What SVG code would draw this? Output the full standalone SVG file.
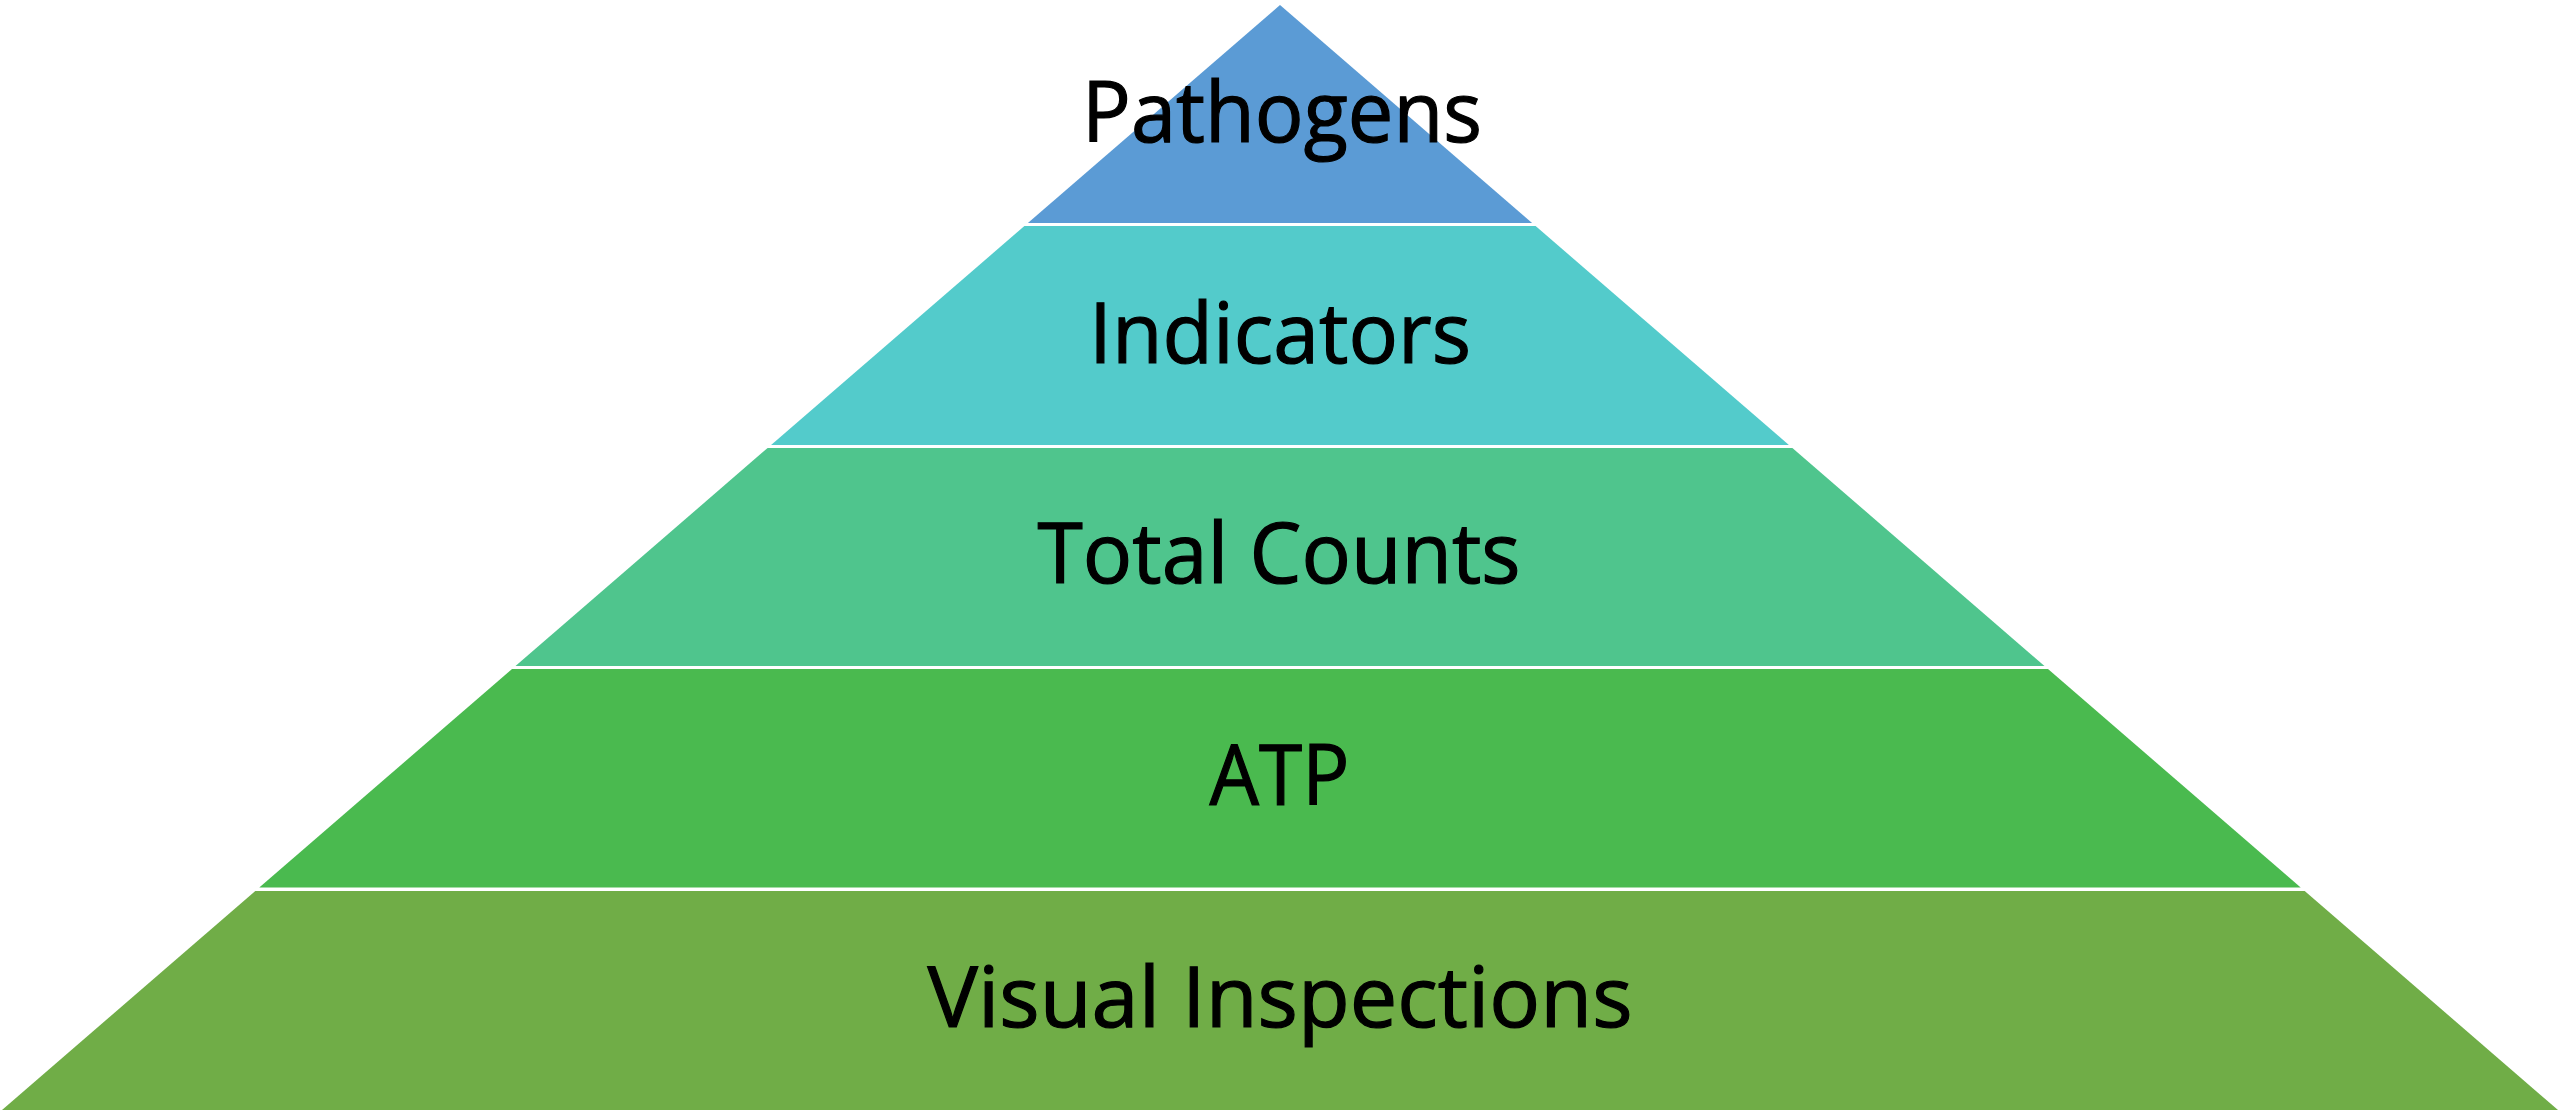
<svg xmlns="http://www.w3.org/2000/svg" width="2560" height="1110" viewBox="0 0 2560 1110">
<style>
.lbl{font-family:"Open Sans","Liberation Sans",sans-serif;font-size:84px;fill:#000000;stroke:#000000;stroke-width:1.2px;text-anchor:middle}
</style>
<rect x="0" y="0" width="2560" height="1110" fill="#FFFFFF"/>
<g id="layer-pathogens">
<polygon points="1280,5 1532.1,223 1027.9,223" fill="#5B9BD5"/>
<text class="lbl" x="1282" y="141.7" textLength="400" lengthAdjust="spacingAndGlyphs">Pathogens</text>
</g>
<g id="layer-indicators">
<polygon points="1024.4,226 1535.6,226 1788.9,445 771.1,445" fill="#53CBCB"/>
<text class="lbl" x="1280" y="362.5" textLength="382" lengthAdjust="spacingAndGlyphs">Indicators</text>
</g>
<g id="layer-total-counts">
<polygon points="767.6,448 1792.4,448 2044.5,666 515.5,666" fill="#4FC58D"/>
<text class="lbl" x="1279" y="583.3" textLength="483" lengthAdjust="spacingAndGlyphs">Total Counts</text>
</g>
<g id="layer-atp">
<polygon points="512,669 2048,669 2300.7,887.5 259.3,887.5" fill="#4ABA4F"/>
<text class="lbl" x="1279.5" y="805" textLength="140" lengthAdjust="spacingAndGlyphs">ATP</text>
</g>
<g id="layer-visual-inspections">
<polygon points="255.3,891 2304.7,891 2558,1110 2,1110" fill="#70AD47"/>
<text class="lbl" x="1280" y="1027.3" textLength="705" lengthAdjust="spacingAndGlyphs">Visual Inspections</text>
</g>
<g id="connectors"></g>
</svg>
